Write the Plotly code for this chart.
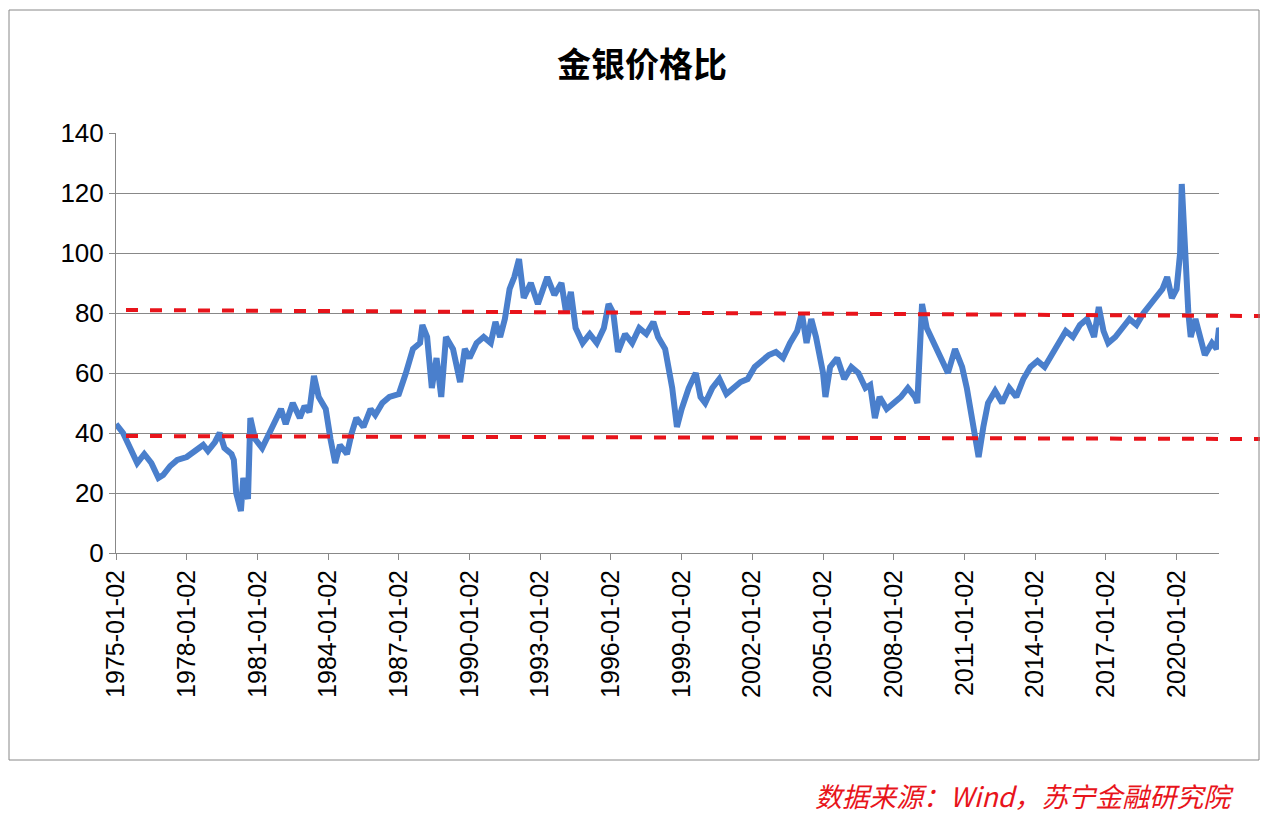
import plotly.graph_objects as go

years = [1975.0,1975.3,1975.6,1975.9,1976.2,1976.5,1976.8,1977.0,1977.3,1977.6,1978.0,1978.4,1978.7,1978.9,1979.2,1979.4,1979.6,1979.9,1980.0,1980.1,1980.3,1980.4,1980.6,1980.7,1980.9,1981.2,1981.5,1981.8,1982.0,1982.2,1982.5,1982.8,1983.0,1983.2,1983.4,1983.6,1983.9,1984.1,1984.3,1984.5,1984.8,1985.0,1985.2,1985.5,1985.8,1986.0,1986.3,1986.6,1987.0,1987.3,1987.6,1987.9,1988.0,1988.2,1988.4,1988.6,1988.8,1989.0,1989.3,1989.6,1989.8,1990.0,1990.3,1990.6,1990.9,1991.1,1991.3,1991.5,1991.7,1991.9,1992.1,1992.3,1992.6,1992.9,1993.1,1993.3,1993.6,1993.9,1994.1,1994.3,1994.5,1994.8,1995.1,1995.4,1995.7,1995.9,1996.1,1996.3,1996.6,1996.9,1997.2,1997.5,1997.8,1998.0,1998.3,1998.6,1998.8,1999.0,1999.3,1999.6,1999.8,2000.0,2000.3,2000.6,2000.9,2001.2,2001.5,2001.8,2002.1,2002.4,2002.7,2003.0,2003.3,2003.6,2003.9,2004.1,2004.3,2004.5,2004.7,2005.0,2005.1,2005.3,2005.6,2005.9,2006.2,2006.5,2006.8,2007.0,2007.2,2007.4,2007.7,2008.0,2008.3,2008.6,2008.9,2009.0,2009.2,2009.4,2009.7,2010.0,2010.3,2010.6,2010.9,2011.1,2011.3,2011.5,2011.6,2011.8,2012.0,2012.3,2012.6,2012.9,2013.2,2013.5,2013.8,2014.1,2014.4,2014.7,2015.0,2015.3,2015.6,2015.9,2016.2,2016.5,2016.7,2016.9,2017.1,2017.4,2017.7,2018.0,2018.3,2018.6,2018.9,2019.1,2019.4,2019.6,2019.8,2020.0,2020.15,2020.22,2020.3,2020.4,2020.5,2020.6,2020.8,2021.0,2021.2,2021.5,2021.7,2021.8,2021.9]
ratio = [43,40,35,30,33,30,25,26,29,31,32,34,36,34,37,40,35,33,31,20,14,25,18,45,38,35,40,44,48,43,50,45,49,47,59,52,48,38,30,36,33,40,45,42,48,46,50,52,53,60,68,70,76,72,55,65,52,72,68,57,68,65,70,72,70,77,72,78,88,92,98,85,90,83,87,92,86,90,80,87,75,70,73,70,75,83,80,67,73,70,75,73,77,72,68,55,42,48,55,60,52,50,55,58,53,55,57,58,62,64,66,67,65,70,74,80,70,78,72,60,52,62,65,58,62,60,55,56,45,52,48,50,52,55,52,50,83,75,70,65,60,68,62,55,45,36,32,42,50,54,50,55,52,58,62,64,62,66,70,74,72,76,78,72,82,74,70,72,75,78,76,80,83,85,88,92,85,88,100,123,110,98,80,72,78,72,66,70,68,75,73]
tick_years = list(range(1975, 2021, 3))
tick_labels = [f"{y}-01-02" for y in tick_years]
upper_band = [81, 79]
lower_band = [39, 38]

fig = go.Figure(go.Scatter(x=years, y=ratio, mode="lines",
                           line=dict(color="#4a7fcc", width=6), showlegend=False))

OX, OY = 7, 8  # render offset
W, H = 1103, 420
def px(x): return (x - 115) / W
def py(y): return (553 - y) / H

for band in (upper_band, lower_band):
    fig.add_shape(type="line", xref="paper", yref="y", x0=px(125), x1=px(1262),
                  y0=band[0], y1=band[1], line=dict(color="#e8141b", width=4, dash="dash"))
fig.add_shape(type="rect", xref="paper", yref="paper", x0=px(8), x1=px(1258),
              y0=py(760), y1=py(10), line=dict(color="#888", width=1))

fig.add_annotation(text="<i>数据来源：Wind，苏宁金融研究院</i>", xref="paper", yref="paper",
                   x=px(1235), y=py(795), xanchor="right", yanchor="middle", showarrow=False,
                   font=dict(size=27, color="#e8141b", family="Noto Sans CJK SC"))

fig.update_layout(
    width=1268, height=814, paper_bgcolor="white", plot_bgcolor="white",
    margin=dict(l=115 - OX, r=1268 - (115 - OX) - W, t=133 - OY, b=814 - (133 - OY) - H),
    title=dict(text="<b>金银价格比</b>", x=0.5, xanchor="center", y=1-(65-OY)/814, yanchor="middle",
               font=dict(size=34, color="black", family="Noto Sans CJK SC")),
    font=dict(family="Liberation Sans", color="black"),
    xaxis=dict(range=[1975, 2021.8], tickvals=tick_years, ticktext=tick_labels, tickangle=-90,
               showgrid=False, showline=True, linecolor="#888", ticks="outside", ticklen=6,
               tickcolor="#888", tickfont=dict(size=25), zeroline=False),
    yaxis=dict(range=[0, 140], dtick=20, showgrid=True, gridcolor="#888", gridwidth=1,
               showline=True, linecolor="#888", ticks="outside", ticklen=6, tickcolor="#888",
               tickfont=dict(size=26), zeroline=False),
)
fig.write_html("out.html")
